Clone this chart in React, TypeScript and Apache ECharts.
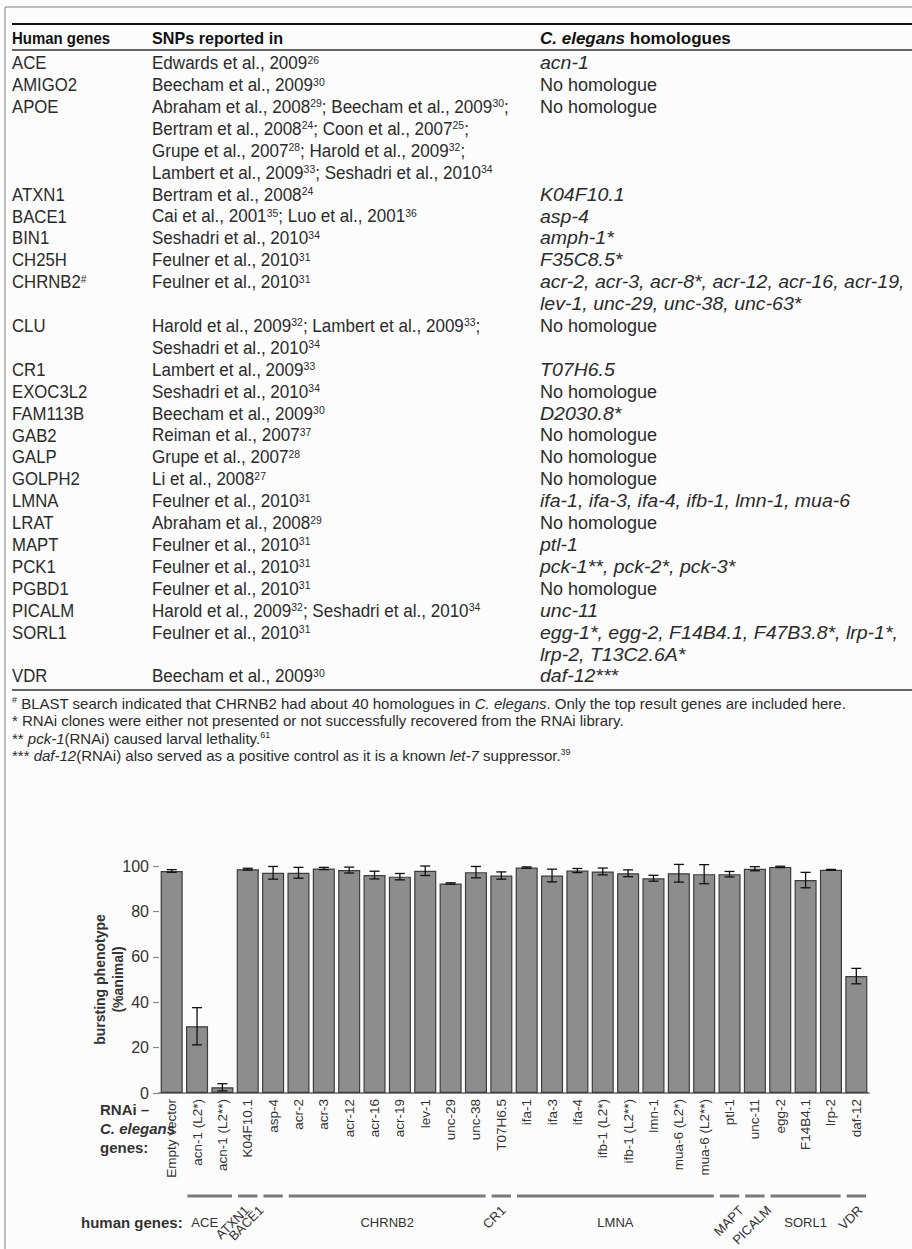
import React, { useEffect, useRef } from 'react';
import * as echarts from 'echarts';

// ---------- bar chart data ----------
const categories = ['Empty vector', 'acn-1 (L2*)', 'acn-1 (L2**)', 'K04F10.1', 'asp-4', 'acr-2', 'acr-3', 'acr-12', 'acr-16', 'acr-19', 'lev-1', 'unc-29', 'unc-38', 'T07H6.5', 'ifa-1', 'ifa-3', 'ifa-4', 'ifb-1 (L2*)', 'ifb-1 (L2**)', 'lmn-1', 'mua-6 (L2*)', 'mua-6 (L2**)', 'ptl-1', 'unc-11', 'egg-2', 'F14B4.1', 'lrp-2', 'daf-12'];
const burstingPct = [97.8, 29.4, 2.5, 98.6, 97.0, 97.0, 98.9, 98.2, 96.0, 95.3, 97.9, 92.3, 97.3, 95.8, 99.3, 95.8, 98.0, 97.6, 96.8, 94.6, 96.8, 96.4, 96.4, 98.8, 99.6, 93.8, 98.3, 51.5];
const errorPct = [0.6, 8.2, 1.6, 0.4, 2.8, 2.4, 0.5, 1.3, 1.7, 1.4, 2.1, 0.3, 2.5, 1.6, 0.3, 2.8, 0.9, 1.5, 1.5, 1.3, 3.9, 4.2, 1.2, 0.9, 0.3, 3.4, 0.2, 3.4];
const yTicks = [0, 20, 40, 60, 80, 100];

// human gene groups under the x axis (category index ranges)
const humanGeneGroups = ['ACE', 'ATXN1', 'BACE1', 'CHRNB2', 'CR1', 'LMNA', 'MAPT', 'PICALM', 'SORL1', 'VDR'];
const groupStart = [1, 3, 4, 5, 13, 14, 22, 23, 24, 27];
const groupEnd = [2, 3, 4, 12, 13, 21, 22, 23, 26, 27];
const groupRotated = [false, true, true, false, true, false, true, true, false, true];
const groupLabelDx = [-5, -1, -12, 0, 2, 0, 12, 14, 0, 4];

// ---------- table data ----------
const tableHeaders = ['Human genes', 'SNPs reported in', '{bi|C. elegans} homologues'];
const tableGenes = ['ACE', 'AMIGO2', 'APOE', 'ATXN1', 'BACE1', 'BIN1', 'CH25H', 'CHRNB2{s|#}', 'CLU', 'CR1', 'EXOC3L2', 'FAM113B', 'GAB2', 'GALP', 'GOLPH2', 'LMNA', 'LRAT', 'MAPT', 'PCK1', 'PGBD1', 'PICALM', 'SORL1', 'VDR'];
const tableRefs = [
  ['Edwards et al., 2009{s|26}'],
  ['Beecham et al., 2009{s|30}'],
  ['Abraham et al., 2008{s|29}; Beecham et al., 2009{s|30};', 'Bertram et al., 2008{s|24}; Coon et al., 2007{s|25};', 'Grupe et al., 2007{s|28}; Harold et al., 2009{s|32};', 'Lambert et al., 2009{s|33}; Seshadri et al., 2010{s|34}'],
  ['Bertram et al., 2008{s|24}'],
  ['Cai et al., 2001{s|35}; Luo et al., 2001{s|36}'],
  ['Seshadri et al., 2010{s|34}'],
  ['Feulner et al., 2010{s|31}'],
  ['Feulner et al., 2010{s|31}'],
  ['Harold et al., 2009{s|32}; Lambert et al., 2009{s|33};', 'Seshadri et al., 2010{s|34}'],
  ['Lambert et al., 2009{s|33}'],
  ['Seshadri et al., 2010{s|34}'],
  ['Beecham et al., 2009{s|30}'],
  ['Reiman et al., 2007{s|37}'],
  ['Grupe et al., 2007{s|28}'],
  ['Li et al., 2008{s|27}'],
  ['Feulner et al., 2010{s|31}'],
  ['Abraham et al., 2008{s|29}'],
  ['Feulner et al., 2010{s|31}'],
  ['Feulner et al., 2010{s|31}'],
  ['Feulner et al., 2010{s|31}'],
  ['Harold et al., 2009{s|32}; Seshadri et al., 2010{s|34}'],
  ['Feulner et al., 2010{s|31}'],
  ['Beecham et al., 2009{s|30}'],
];
const tableHomologues = [
  ['{i|acn-1}'],
  ['No homologue'],
  ['No homologue'],
  ['{i|K04F10.1}'],
  ['{i|asp-4}'],
  ['{i|amph-1*}'],
  ['{i|F35C8.5*}'],
  ['{i|acr-2, acr-3, acr-8*, acr-12, acr-16, acr-19,}', '{i|lev-1, unc-29, unc-38, unc-63*}'],
  ['No homologue'],
  ['{i|T07H6.5}'],
  ['No homologue'],
  ['{i|D2030.8*}'],
  ['No homologue'],
  ['No homologue'],
  ['No homologue'],
  ['{i|ifa-1, ifa-3, ifa-4, ifb-1, lmn-1, mua-6}'],
  ['No homologue'],
  ['{i|ptl-1}'],
  ['{i|pck-1**, pck-2*, pck-3*}'],
  ['No homologue'],
  ['{i|unc-11}'],
  ['{i|egg-1*, egg-2, F14B4.1, F47B3.8*, lrp-1*,}', '{i|lrp-2, T13C2.6A*}'],
  ['{i|daf-12***}'],
];
const footnotes = [
  '{s|#} BLAST search indicated that CHRNB2 had about 40 homologues in {i|C. elegans}. Only the top result genes are included here.',
  '* RNAi clones were either not presented or not successfully recovered from the RNAi library.',
  '** {i|pck-1}(RNAi) caused larval lethality.{s|61}',
  '*** {i|daf-12}(RNAi) also served as a positive control as it is a known {i|let-7} suppressor.{s|39}',
];

const CHART_FONT = '"Liberation Sans", Arial, sans-serif';
const TABLE_FONT = '"Liberation Sans", Arial, sans-serif';
const TXT = '#2b2b2b';

function richFor(size: number) {
  return {
    s: { fontFamily: TABLE_FONT, fontSize: Math.round(size * 0.6), fill: TXT, verticalAlign: 'top' },
    i: { fontFamily: TABLE_FONT, fontSize: size, fontStyle: 'italic', fill: TXT },
    bi: { fontFamily: TABLE_FONT, fontSize: size, fontStyle: 'italic', fontWeight: 'bold', fill: '#111' },
  };
}

function tableText(x: number, y: number, text: string, size: number, scaleX: number, bold = false) {
  return {
    type: 'text',
    x,
    y,
    scaleX,
    silent: true,
    style: {
      text,
      fontFamily: TABLE_FONT,
      fontSize: size,
      fontWeight: bold ? 'bold' : 'normal',
      fill: bold ? '#111' : TXT,
      align: 'left',
      verticalAlign: 'middle',
      rich: richFor(size),
    },
  };
}

function hline(x1: number, x2: number, y: number, color: string, w: number) {
  return { type: 'line', silent: true, shape: { x1, y1: y, x2, y2: y }, style: { stroke: color, lineWidth: w } };
}

function buildTableGraphic() {
  const els: any[] = [];
  // outer frame
  els.push(hline(5, 912, 7, '#a8a8a8', 1.5));
  els.push({ type: 'line', silent: true, shape: { x1: 5, y1: 7, x2: 5, y2: 1249 }, style: { stroke: '#a8a8a8', lineWidth: 1.5 } });

  const colX = [12, 152, 540];
  const BODY = 18;
  const headScale = [0.88, 0.95, 1.0];
  els.push(hline(12, 912, 24, '#111', 2));
  tableHeaders.forEach((h, i) => els.push(tableText(colX[i], 38, h, 17, headScale[i], true)));
  els.push(hline(12, 912, 50, '#333', 1.6));

  const y0 = 63;
  const lh = 21.9;
  let line = 0;
  const homScale = (t: string) => (t.startsWith('{i|') ? 1.085 : 1.0);
  tableGenes.forEach((g, r) => {
    const y = y0 + line * lh;
    els.push(tableText(colX[0], y, g, BODY, 0.93));
    tableRefs[r].forEach((t, k) => els.push(tableText(colX[1], y + k * lh, t, BODY, 0.947)));
    tableHomologues[r].forEach((t, k) => els.push(tableText(colX[2], y + k * lh, t, BODY, homScale(t))));
    line += Math.max(tableRefs[r].length, tableHomologues[r].length);
  });
  els.push(hline(12, 912, 690, '#333', 1.6));

  const fy = [703, 720, 738, 755];
  footnotes.forEach((f, i) => els.push(tableText(12, fy[i], f, 15, 1.0)));

  // row titles left of the chart
  const lbl = (x: number, y: number, text: string, italic = false) => ({
    type: 'text', x, y, silent: true,
    style: { text, fontFamily: CHART_FONT, fontSize: 15, fontWeight: 'bold', fontStyle: italic ? 'italic' : 'normal', fill: '#333', align: 'left', verticalAlign: 'middle' },
  });
  els.push(lbl(100, 1109, 'RNAi –'));
  els.push(lbl(100, 1128, 'C. elegans', true));
  els.push(lbl(100, 1147, 'genes:'));
  els.push(lbl(81, 1222, 'human genes:'));
  return els;
}

function renderErrorBar(params: any, api: any) {
  const idx = api.value(0);
  const x = api.coord([idx, 0])[0];
  const lo = api.coord([idx, api.value(1)])[1];
  const hi = api.coord([idx, api.value(2)])[1];
  const half = 5;
  const st = { stroke: '#111', lineWidth: 1.3 };
  return {
    type: 'group',
    children: [
      { type: 'line', shape: { x1: x, y1: hi, x2: x, y2: lo }, style: st },
      { type: 'line', shape: { x1: x - half, y1: hi, x2: x + half, y2: hi }, style: st },
      { type: 'line', shape: { x1: x - half, y1: lo, x2: x + half, y2: lo }, style: st },
    ],
  };
}

export default function App() {
  const ref = useRef<HTMLDivElement>(null);
  useEffect(() => {
    document.body.style.margin = '0';
    const chart = echarts.init(ref.current!, undefined, { renderer: 'svg' });
    const option: any = {
      animation: false,
      backgroundColor: '#fcfcfc',
      textStyle: { fontFamily: CHART_FONT },
      grid: { left: 159, top: 866, width: 710, height: 227, containLabel: false },
      xAxis: {
        type: 'category',
        data: categories,
        axisLine: { lineStyle: { color: '#8a8a8a', width: 2 } },
        axisTick: { show: false },
        axisLabel: { rotate: 90, fontSize: 13.5, color: '#333', margin: 6, interval: 0 },
      },
      yAxis: {
        type: 'value',
        min: yTicks[0],
        max: yTicks[yTicks.length - 1],
        interval: 20,
        name: 'bursting phenotype\n(%animal)',
        nameLocation: 'middle',
        nameRotate: 90,
        nameGap: 32,
        nameMoveOverlap: false,
        nameTextStyle: { fontWeight: 'bold', fontSize: 14, color: '#333', lineHeight: 18 },
        axisLine: { show: false },
        axisTick: { show: true, length: 6, lineStyle: { color: '#888', width: 1.2 } },
        axisLabel: { fontSize: 16, color: '#333', margin: 10 },
        splitLine: { show: false },
      },
      series: [
        {
          type: 'bar',
          data: burstingPct,
          barWidth: '87%',
          itemStyle: { color: '#8d8d8d', borderColor: '#3d3d3d', borderWidth: 1.2 },
        },
        {
          type: 'custom',
          renderItem: renderErrorBar,
          data: burstingPct.map((v, i) => [i, v - errorPct[i], v + errorPct[i]]),
          encode: { x: 0, y: [1, 2] },
          z: 10,
          clip: false,
        },
      ],
    };
    chart.setOption(option);

    const px = (i: number) => chart.convertToPixel({ xAxisIndex: 0 }, i) as number;
    const band = px(1) - px(0);
    const groupEls: any[] = [];
    humanGeneGroups.forEach((g, k) => {
      const x1 = px(groupStart[k]) - band / 2 + 3;
      const x2 = px(groupEnd[k]) + band / 2 - 3;
      groupEls.push(hline(x1, x2, 1196, '#7a7a7a', 3));
      if (groupRotated[k]) {
        groupEls.push({
          type: 'text', x: px(groupEnd[k]) + groupLabelDx[k], y: 1208, rotation: Math.PI / 4, silent: true,
          style: { text: g, fontFamily: CHART_FONT, fontSize: 13, fill: '#333', align: 'right', verticalAlign: 'middle' },
        });
      } else {
        groupEls.push({
          type: 'text', x: (x1 + x2) / 2 + groupLabelDx[k], y: 1222, silent: true,
          style: { text: g, fontFamily: CHART_FONT, fontSize: 13, fill: '#333', align: 'center', verticalAlign: 'middle' },
        });
      }
    });
    chart.setOption({ graphic: [...buildTableGraphic(), ...groupEls] });
    return () => chart.dispose();
  }, []);
  return <div ref={ref} style={{ width: 912, height: 1249 }} />;
}
